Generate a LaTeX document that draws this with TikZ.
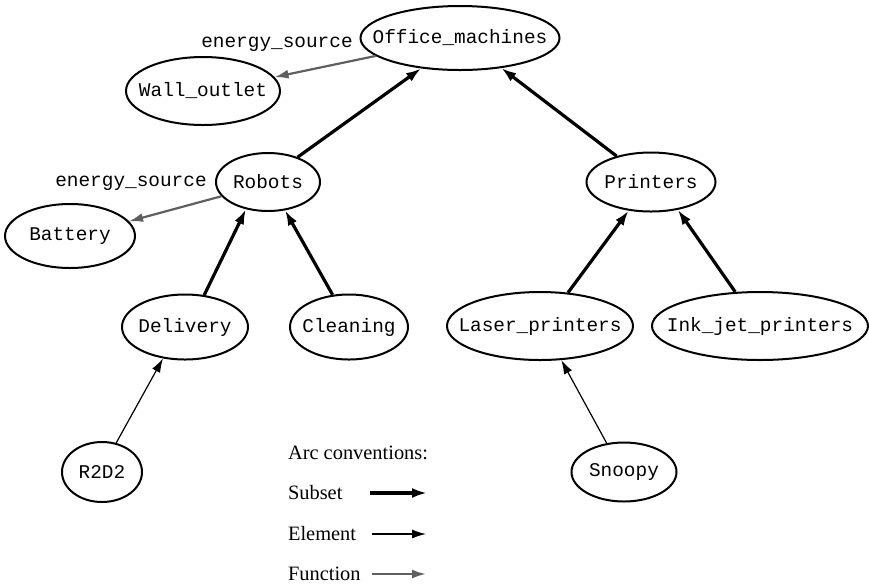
\documentclass[tikz,border=0pt]{standalone}
\usepackage{fontspec}
\setmainfont{Liberation Serif}
\newfontfamily\codefont{Liberation Mono}
\usepackage{tikz}
\usepackage{xcolor}
\definecolor{fngray}{RGB}{95,95,95}
\usetikzlibrary{shapes.geometric,arrows.meta,positioning}
% keep the ellipse size set by minimum width/height only
\newcommand{\clstext}[1]{\makebox[0pt]{#1}}

\begin{document}
\begin{tikzpicture}[
        x=0.5pt, y=-0.5pt,
        cls/.style={ellipse, draw, line width=1pt, inner sep=0pt,
                    font=\codefont\fontsize{9.7}{11}\selectfont},
        lbl/.style={font=\codefont\fontsize{9.7}{11}\selectfont},
        leg/.style={anchor=west, font=\fontsize{10.2}{12}\selectfont},
        subarc/.style={-{Latex[length=7.5pt,width=5pt]}, line width=1.6pt},
        elemarc/.style={-{Latex[length=7pt,width=4.5pt]}, line width=0.6pt},
        fnarc/.style={-{Latex[length=7pt,width=4.5pt]}, line width=1.1pt, fngray}
    ]
        \useasboundingbox (0,0) rectangle (869,586);

        \node[cls, minimum width=99.5pt, minimum height=32pt] (off) at (460,38)  {\clstext{Office\_machines}};
        \node[cls, minimum width=77pt,   minimum height=34pt] (wall) at (203,91) {\clstext{Wall\_outlet}};
        \node[cls, minimum width=52pt,   minimum height=29pt] (rob) at (268,182) {\clstext{Robots}};
        \node[cls, minimum width=65pt,   minimum height=32pt] (bat) at (70,236)  {\clstext{Battery}};
        \node[cls, minimum width=64.5pt, minimum height=29.5pt] (prn) at (651,182) {\clstext{Printers}};
        \node[cls, minimum width=63pt,   minimum height=32.5pt] (dlv) at (185,327) {\clstext{Delivery}};
        \node[cls, minimum width=59pt,   minimum height=32.5pt] (cln) at (349,327) {\clstext{Cleaning}};
        \node[cls, minimum width=93pt,   minimum height=34pt] (lsr) at (540,326) {\clstext{Laser\_printers}};
        \node[cls, minimum width=108pt,  minimum height=34pt] (ink) at (760,326) {\clstext{Ink\_jet\_printers}};
        \node[cls, minimum width=40pt,   minimum height=30pt] (r2d2) at (102,472) {\clstext{R2D2}};
        \node[cls, minimum width=52.5pt, minimum height=29.5pt] (snp) at (624,472) {\clstext{Snoopy}};

        \node[lbl] (es1) at (277,44)  {energy\_source};
        \node[lbl] (es2) at (131,183) {energy\_source};

        % subset arcs
        \draw[subarc] (rob.40)  -- (off.218);
        \draw[subarc] (prn.143) -- (off.324);
        \draw[subarc] (dlv.59)  -- (rob.231);
        \draw[subarc] (cln.117) -- (rob.301);
        \draw[subarc] (lsr.50)  -- (prn.232);
        \draw[subarc] (ink.126) -- (prn.314);

        % element arcs
        \draw[elemarc] (r2d2.64) -- (dlv.235);
        \draw[elemarc] (snp.121) -- (lsr.302);

        % function arcs
        \draw[fnarc] (off.192) -- (wall.11);
        \draw[fnarc] (rob.197) -- (bat.14);

        % legend
        \node[leg] (arcconv) at (281,453) {Arc conventions:};
        \node[leg] (lsub)  at (281,493) {Subset};
        \node[leg] (lelem) at (281,534) {Element};
        \node[leg] (lfn)   at (281,574) {Function};
        \coordinate (sub1) at (370,493);  \coordinate (sub2) at (427,493);
        \coordinate (elem1) at (372,534); \coordinate (elem2) at (426,534);
        \coordinate (fn1) at (372,574);   \coordinate (fn2) at (426,574);
        \draw[subarc]  (sub1)  -- (sub2);
        \draw[elemarc] (elem1) -- (elem2);
        \draw[fnarc]   (fn1)   -- (fn2);
    \end{tikzpicture}
\end{document}
